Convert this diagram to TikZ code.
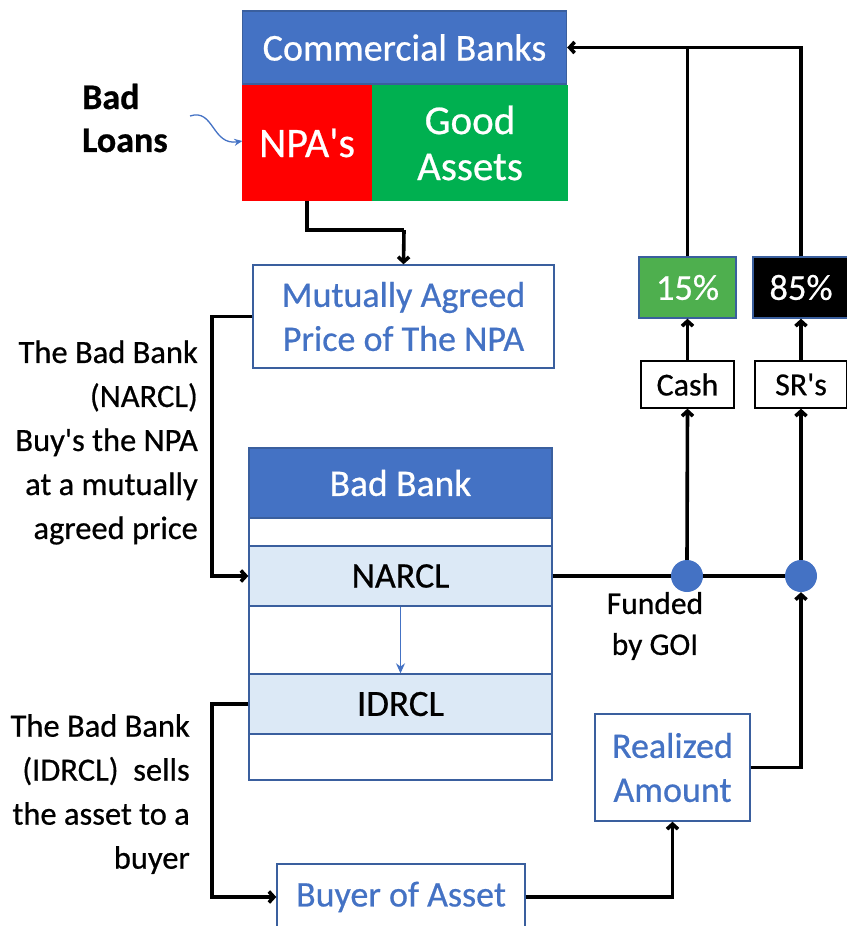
\documentclass[tikz,border=0pt]{standalone}
\usepackage{fontspec}
\setmainfont{Carlito}[FakeBold=0.6, BoldFeatures={FakeBold=0.6}]
\usetikzlibrary{arrows.meta,calc}
\definecolor{hblue}{HTML}{4472C4}
\definecolor{bord}{HTML}{3A5F9E}
\definecolor{nred}{HTML}{FF0000}
\definecolor{ngreen}{HTML}{00B050}
\definecolor{pgreen}{HTML}{4EAF4E}
\definecolor{lblue}{HTML}{DCE9F6}
\definecolor{tblue}{HTML}{4472C4}
\newcommand{\aps}{\textquotesingle}
\tikzset{
  cell/.style={draw=bord, line width=1.4pt, inner sep=0pt, align=center},
  wbox/.style={cell, fill=white, text=tblue, font=\fontsize{36}{44}\selectfont},
  conn/.style={line width=3.6pt, black},
  arr/.style={conn, -{Straight Barb[length=5pt,width=11pt]}},
  dotn/.style={circle, fill=hblue, minimum size=32pt, inner sep=0pt},
  side/.style={align=right, font=\fontsize{32.5}{44}\selectfont, inner sep=0pt}
}
\begin{document}
\begin{tikzpicture}[x=1pt,y=-1pt]
\useasboundingbox (0,0) rectangle (846,926);
% top boxes
\node[cell, fill=hblue, text=white, minimum width=324pt, minimum height=73pt,
  font=\fontsize{38}{40}\selectfont] (cb) at (404.5,47.5) {Commercial Banks};
\node[cell, draw=nred, fill=nred, text=white, minimum width=128pt, minimum height=114pt,
  font=\fontsize{42}{44}\selectfont] (npa) at (307,143) {NPA\aps s};
\node[cell, draw=ngreen, fill=ngreen, text=white, minimum width=194pt, minimum height=114pt,
  font=\fontsize{41}{46}\selectfont] (good) at (470,143) {Good\\Assets};
\node[align=left, anchor=west, inner sep=0pt, font=\bfseries\fontsize{36}{43}\selectfont] (bl) at (82,118) {Bad\\Loans};
\coordinate (blstart) at (190,116);
\draw[hblue, line width=1.3pt, -{Stealth[length=8pt,width=7pt]}] (blstart) .. controls (214,108) and (212,146) .. (npa.west |- 0,141);
% mutually agreed
\node[wbox, minimum width=301pt, minimum height=103pt] (map) at (403.5,316.5) {Mutually Agreed\\Price of The NPA};
\coordinate (j1) at (404,230);
\draw[conn] (npa.south) |- (j1);
\draw[arr] (j1) -- (map.north);
% bad bank table
\node[cell, fill=hblue, text=white, minimum width=303pt, minimum height=70pt,
  font=\fontsize{37.5}{40}\selectfont] (bbh) at (400.5,483) {Bad Bank};
\node[cell, fill=white, minimum width=303pt, minimum height=28pt] (r1) at (400.5,532) {};
\node[cell, fill=lblue, minimum width=303pt, minimum height=60pt,
  font=\fontsize{36}{40}\selectfont] (narcl) at (400.5,576) {NARCL};
\node[cell, fill=white, minimum width=303pt, minimum height=68pt] (r2) at (400.5,640) {};
\node[cell, fill=lblue, minimum width=303pt, minimum height=60pt,
  font=\fontsize{37}{40}\selectfont] (idrcl) at (400.5,704) {IDRCL};
\node[cell, fill=white, minimum width=303pt, minimum height=46pt] (r3) at (400.5,757) {};
\draw[hblue, line width=1.1pt, -{Stealth[length=10pt,width=9pt]}] (narcl.south) -- (idrcl.north);
% side texts
\node[side, anchor=east] (t1) at (198,442.5) {The Bad Bank\\(NARCL)\\Buy\aps s the NPA\\at a mutually\\agreed price};
\node[side, anchor=east] (t2) at (190,794) {The Bad Bank\\(IDRCL)\ \ sells\\the asset to a\\buyer};
\coordinate (c1) at (212,450);
\draw[arr] (map.west) -| (c1) |- (narcl.west);
% right side
\node[dotn] (d1) at (687,576) {};
\node[dotn] (d2) at (801,576) {};
\node[cell, draw=black, line width=1.3pt, fill=white, minimum width=93pt, minimum height=47pt,
  font=\fontsize{32}{34}\selectfont] (cash) at (687.5,384.5) {Cash};
\node[cell, draw=black, line width=1.3pt, fill=white, minimum width=92pt, minimum height=47pt,
  font=\fontsize{32}{34}\selectfont] (sr) at (801,384.5) {SR\aps s};
\node[cell, fill=pgreen, text=white, minimum width=97pt, minimum height=61pt,
  font=\fontsize{36.5}{36}\selectfont] (p15) at (687.5,287.5) {15\%};
\node[cell, fill=black, text=white, minimum width=96pt, minimum height=61pt,
  font=\fontsize{36.5}{36}\selectfont] (p85) at (801,287.5) {85\%};
\draw[conn] (narcl.east) -- (d1.west);
\draw[conn] (d1.east) -- (d2.west);
\draw[arr] (d1.north) -- (cash.south);
\draw[arr] (d2.north) -- (sr.south);
\draw[arr] (cash.north) -- (p15.south);
\draw[arr] (sr.north) -- (p85.south);
\draw[arr] (p85.north) |- (cb.east);
\coordinate (j2) at (p15.north |- cb.east);
\draw[conn] (p15.north) -- (j2);
\node[align=center, inner sep=0pt, font=\fontsize{31.5}{41}\selectfont] (fund) at (655,626) {Funded\\by GOI};
% bottom
\node[wbox, minimum width=248pt, minimum height=66pt] (buyer) at (401,897) {Buyer of Asset};
\node[wbox, minimum width=155pt, minimum height=107pt] (real) at (672.5,767.5) {Realized\\Amount};
\coordinate (c2) at (212,800);
\draw[arr] (idrcl.west) -| (c2) |- (buyer.west);
\draw[arr] (buyer.east) -| (real.south);
\draw[arr] (real.east) -| (d2.south);
\end{tikzpicture}
\end{document}
